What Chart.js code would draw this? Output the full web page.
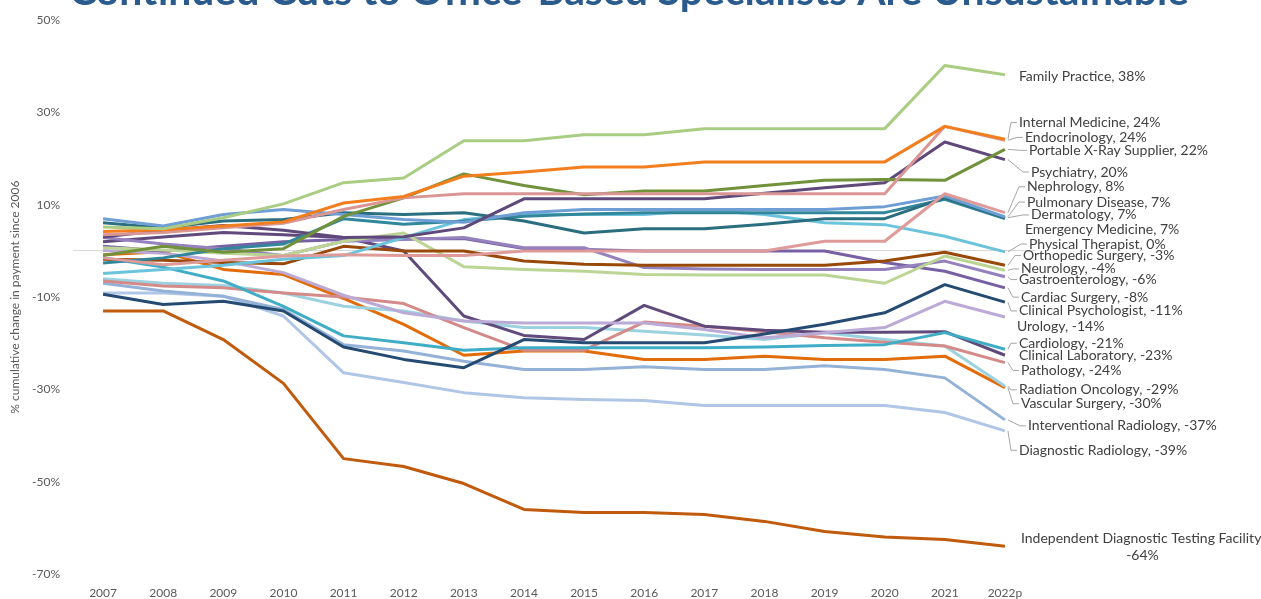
<!DOCTYPE html>
<html><head><meta charset="utf-8">
<script src="https://cdn.jsdelivr.net/npm/chart.js@4.4.0/dist/chart.umd.min.js"></script>
<style>html,body{margin:0;padding:0;background:#fff;overflow:hidden}</style>
</head><body>
<canvas id="c" width="1261" height="599"></canvas>
<script>
const categories = ['2007','2008','2009','2010','2011','2012','2013','2014','2015','2016','2017','2018','2019','2020','2021','2022p'];
const yTicks = [-70,-50,-30,-10,10,30,50];

const familyPractice   = [5.2,4.8,7.2,10.2,14.8,15.8,23.9,23.9,25.2,25.2,26.5,26.5,26.5,26.5,40.2,38.2];
const internalMedicine = [4.2,4.6,5.4,6.3,10.4,11.8,16.2,17.1,18.2,18.2,19.3,19.3,19.3,19.3,27.0,24.2];
const endocrinology    = [3.5,4.0,5.0,6.0,9.0,11.5,12.4,12.4,12.4,12.4,12.4,12.4,12.4,12.4,27.0,24.0];
const portableXRay     = [-1.0,1.0,-0.3,0.5,7.5,11.5,16.7,14.2,12.2,13.0,13.0,14.2,15.3,15.5,15.3,22.0];
const psychiatry       = [3.0,4.5,5.5,4.5,2.9,3.1,5.0,11.3,11.3,11.3,11.3,12.5,13.7,14.8,23.6,19.8];
const nephrology       = [-1.5,-3.0,-2.0,-1.1,-0.8,-1.0,-1.0,0,0,0,0,0,2.1,2.1,12.4,8.3];
const pulmonary        = [7.0,5.4,7.9,9.0,7.9,6.8,6.2,8.3,9.0,9.0,9.0,9.0,9.0,9.6,11.9,7.4];
const dermatology      = [6.1,5.0,6.5,6.8,8.3,7.9,8.3,6.5,3.9,4.8,4.8,5.8,7.0,7.0,11.5,7.2];
const emergencyMed     = [-2.6,-1.5,0.5,1.5,7.0,5.8,6.5,7.5,8.0,8.3,8.3,8.3,8.3,8.3,11.2,7.0];
const physicalTherapist= [-4.9,-4.0,-3.1,-1.8,-1.0,2.9,6.8,7.9,7.9,7.9,8.8,7.9,6.1,5.7,3.2,-0.2];
const orthopedic       = [-1.8,-2.0,-2.5,-2.8,1.0,0.0,0.0,-2.2,-2.9,-3.1,-3.1,-3.1,-3.1,-2.2,-0.3,-3.1];
const neurology        = [0.7,0.2,-0.5,-1.0,2.1,3.9,-3.4,-4.0,-4.4,-5.1,-5.2,-5.2,-5.2,-7.0,-1.1,-4.2];
const gastro           = [2.9,1.5,0.5,-1.0,2.1,2.5,2.9,0.7,0.7,-3.6,-3.9,-4.0,-4.0,-4.0,-2.2,-5.6];
const cardiacSurgery   = [1.0,0.0,1.0,2.0,2.5,2.6,2.7,0.5,0.3,0.0,0.0,0.0,0.0,-2.5,-4.4,-8.0];
const clinicalPsych    = [-9.4,-11.6,-10.9,-13.0,-20.8,-23.5,-25.3,-19.2,-19.9,-19.9,-19.9,-18.0,-15.9,-13.4,-7.3,-11.1];
const urology          = [0.1,-0.5,-2.2,-4.7,-9.6,-13.4,-15.2,-15.6,-15.6,-15.6,-17.0,-18.8,-17.7,-16.6,-10.9,-14.3];
const cardiology       = [-1.5,-3.5,-6.5,-12.0,-18.4,-19.9,-21.5,-21.0,-21.0,-21.0,-21.0,-20.8,-20.5,-20.3,-17.7,-21.3];
const clinicalLab      = [2.0,3.0,4.0,3.5,2.9,0.0,-14.1,-18.3,-19.2,-11.8,-16.3,-17.2,-17.6,-17.6,-17.5,-22.6];
const pathology        = [-6.5,-7.6,-8.0,-9.1,-10.0,-11.4,-16.6,-21.5,-21.5,-15.4,-16.3,-17.5,-18.8,-19.8,-20.6,-24.2];
const radiationOnc     = [-6.0,-7.0,-7.5,-9.1,-12.0,-13.0,-15.2,-16.6,-16.6,-17.4,-18.2,-19.2,-17.7,-19.2,-20.6,-29.3];
const vascularSurgery  = [-0.8,-0.2,-4.0,-5.1,-10.3,-15.9,-22.6,-21.7,-21.7,-23.5,-23.5,-22.8,-23.5,-23.5,-22.8,-29.6];
const interventional   = [-7.0,-8.7,-9.8,-12.7,-20.3,-21.7,-23.9,-25.7,-25.7,-25.1,-25.7,-25.7,-24.9,-25.7,-27.5,-36.6];
const diagnosticRad    = [-9.1,-9.1,-9.8,-14.1,-26.4,-28.5,-30.7,-31.8,-32.2,-32.4,-33.5,-33.5,-33.5,-33.5,-35.0,-39.0];
const idtf             = [-13.0,-13.0,-19.2,-28.7,-45.0,-46.7,-50.4,-56.0,-56.7,-56.7,-57.1,-58.6,-60.8,-62.0,-62.5,-64.0];

const seriesNames = ['Family Practice','Internal Medicine','Endocrinology','Portable X-Ray Supplier','Psychiatry','Nephrology','Pulmonary Disease','Dermatology','Emergency Medicine','Physical Therapist','Orthopedic Surgery','Neurology','Gastroenterology','Cardiac Surgery','Clinical Psychologist','Urology','Cardiology','Clinical Laboratory','Pathology','Radiation Oncology','Vascular Surgery','Interventional Radiology','Diagnostic Radiology','Independent Diagnostic Testing Facility'];
const seriesValues = [familyPractice,internalMedicine,endocrinology,portableXRay,psychiatry,nephrology,pulmonary,dermatology,emergencyMed,physicalTherapist,orthopedic,neurology,gastro,cardiacSurgery,clinicalPsych,urology,cardiology,clinicalLab,pathology,radiationOnc,vascularSurgery,interventional,diagnosticRad,idtf];
const seriesColors = ['#A9CD82','#F37E1E','#D99694','#71913A','#5F497A','#DE9B99','#6E9ED4','#2B6E80','#31869C','#6CC4DC','#984807','#BCD595','#9581BD','#7860A5','#264B73','#BCAAD6','#40ADC7','#604A7C','#D48A88','#9CD2E0','#E36C0A','#94B2D8','#AFC6E6','#C05A0C'];

// label placement (value-axis units for the label's vertical centre, px offset right of the last point)
const labelAt = [37.9,27.8,24.6,21.8,17.1,13.9,10.6,7.8,4.7,1.5,-1.0,-3.9,-6.2,-10.0,-13.0,-16.3,-20.0,-22.6,-25.9,-30.1,-33.1,-37.9,-43.2,-62.3];
const labelDx = [14,14,20,24,26,22,22,26,20,24,18,16,14,16,14,12,14,14,16,14,16,23,14,16];
const hasLeader = [0,1,1,1,1,1,1,1,0,1,1,1,1,1,1,0,1,0,1,1,1,1,1,0];

const titleText = 'Continued Cuts to Office-Based Specialists Are Unsustainable';

const titlePlugin = {
  id:'topTitle',
  afterDraw(chart){
    const ctx = chart.ctx; ctx.save();
    let fs = 36; ctx.font = 'bold '+fs+'px Lato';
    const w = ctx.measureText(titleText).width;
    fs = fs * 1120 / w; ctx.font = 'bold '+fs.toFixed(2)+'px Lato';
    ctx.fillStyle = '#2A5B8C'; ctx.textAlign='center'; ctx.textBaseline='alphabetic';
    ctx.fillText(titleText, 629, 5);
    ctx.restore();
  }
};

const endLabels = {
  id:'endLabels',
  afterDatasetsDraw(chart){
    const ctx = chart.ctx, ys = chart.scales.y;
    ctx.save();
    ctx.font = '14px Lato'; ctx.textBaseline='middle'; ctx.textAlign='left';
    seriesNames.forEach((name,i)=>{
      const meta = chart.getDatasetMeta(i);
      const pt = meta.data[meta.data.length-1];
      const lx = pt.x + labelDx[i];
      const ly = ys.getPixelForValue(labelAt[i]);
      const v = seriesValues[i][seriesValues[i].length-1];
      const txt = name + ', ' + (Math.round(v)+0) + '%';
      if (hasLeader[i]) {
        ctx.strokeStyle = '#A6A6A6'; ctx.lineWidth = 1;
        ctx.beginPath();
        ctx.moveTo(pt.x+3, pt.y);
        ctx.lineTo(lx-8, ly);
        ctx.lineTo(lx-2, ly);
        ctx.stroke();
      }
      ctx.fillStyle = '#404040';
      const w = ctx.measureText(txt).width;
      if (lx + w > chart.width) {
        const cut = txt.lastIndexOf(', ');
        const l1 = txt.slice(0,cut+1), l2 = txt.slice(cut+2);
        const w1 = ctx.measureText(l1).width;
        const cx = lx + w1/2;
        ctx.textAlign='center';
        ctx.fillText(l1, cx, ly);
        ctx.fillText(l2, cx, ly+17);
        ctx.textAlign='left';
      } else {
        ctx.fillText(txt, lx, ly);
      }
    });
    ctx.restore();
  }
};

const datasets = seriesNames.map((n,i)=>({
  label:n, data:seriesValues[i], borderColor:seriesColors[i], backgroundColor:seriesColors[i],
  borderWidth:3, pointRadius:0, tension:0, fill:false, borderJoinStyle:'round', borderCapStyle:'butt'
}));

new Chart(document.getElementById('c'), {
  type:'line',
  data:{ labels:categories, datasets },
  options:{
    responsive:false, animation:false, devicePixelRatio:1,
    layout:{ padding:{ top:20, right:226, bottom:0, left:0 } },
    plugins:{ legend:{display:false}, tooltip:{enabled:false}, title:{display:false} },
    scales:{
      x:{ type:'category', offset:true,
          grid:{ display:false, drawTicks:false }, border:{display:false},
          ticks:{ color:'#595959', font:{ size:12, family:'Lato' }, padding:12, maxRotation:0, autoSkip:false },
          afterFit(s){ s.height = 25; } },
      y:{ min:-70, max:50,
          grid:{ drawTicks:false, lineWidth:1, color:(c)=> c.tick && c.tick.value===0 ? '#D9D9D9' : 'rgba(0,0,0,0)' },
          border:{display:false},
          afterBuildTicks(s){ s.ticks = [...yTicks, 0].sort((a,b)=>a-b).map(v=>({value:v})); },
          ticks:{ color:'#595959', font:{ size:12, family:'Lato' }, padding:13,
                  callback:(v)=> yTicks.includes(v) ? v+'%' : '' },
          title:{ display:true, text:'% cumulative change in payment since 2006', color:'#595959',
                  font:{ size:12, family:'Lato' }, padding:{ top:8, bottom:0 } },
          afterFit(s){ s.width = 73; } }
    }
  },
  plugins:[endLabels, titlePlugin]
});
</script>
</body></html>
